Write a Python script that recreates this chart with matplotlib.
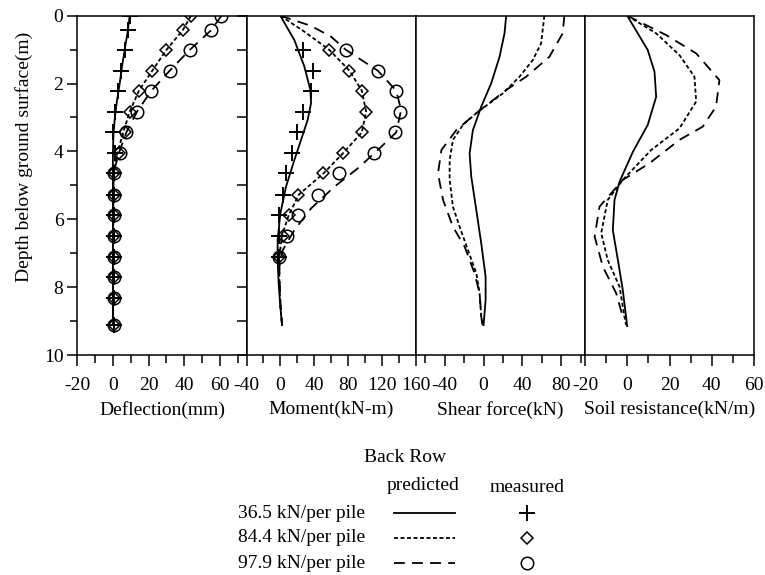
"""Back row pile response: deflection, moment, shear force, soil resistance vs depth."""

import matplotlib

matplotlib.use("Agg")
import matplotlib.pyplot as plt
from matplotlib.lines import Line2D
from matplotlib.ticker import MultipleLocator

plt.rcParams["font.family"] = ["Liberation Serif", "DejaVu Serif"]
plt.rcParams["font.size"] = 14
plt.rcParams["axes.unicode_minus"] = False

LOADS = ["36.5 kN/per pile", "84.4 kN/per pile", "97.9 kN/per pile"]

# measured points (depth, m)
MEAS_DEPTH = [0.0, 0.42, 1.01, 1.62, 2.21, 2.83, 3.44, 4.04, 4.65, 5.27,
              5.87, 6.48, 7.10, 7.69, 8.31, 9.12]
DEFL_MEAS = [
    [9.4, 8.4, 7.0, 4.7, 2.8, 1.0, 0.0, 1.0, 0.4, 0.4, 0.4, 0.4, 0.4, 0.4, 0.4, 0.4],
    [43.8, 39.3, 30.0, 22.1, 14.6, 9.4, 6.6, 3.4, 0.8, 0.4, 0.4, 0.4, 0.4, 0.4, 0.4, 0.4],
    [60.9, 55.3, 43.1, 31.9, 21.6, 13.5, 7.5, 3.8, 0.8, 0.4, 0.4, 0.4, 0.4, 0.4, 0.4, 0.4],
]
MOM_DEPTH = [1.01, 1.62, 2.21, 2.83, 3.44, 4.04, 4.65, 5.27, 5.87, 6.48, 7.10]
MOM_MEAS = [
    [26.4, 38.2, 36.3, 26.4, 19.7, 13.8, 6.7, 2.8, -1.2, -1.2, -1.2],
    [58.0, 81.7, 96.3, 101.4, 96.3, 74.6, 50.9, 20.5, 9.8, 2.8, -1.2],
    [77.7, 115.2, 136.9, 142.0, 136.1, 110.4, 69.8, 45.0, 20.5, 7.9, -1.2],
]

# predicted curves
DEFL_PRED_DEPTH = [
    [0, 0.5, 1.0, 1.5, 2.0, 2.5, 3.0, 3.5, 4.0, 4.5, 9.12],
    [0, 0.42, 1.01, 1.62, 2.21, 2.83, 3.44, 4.04, 4.5, 5.0, 9.12],
    [0, 0.42, 1.01, 1.62, 2.21, 2.83, 3.44, 4.04, 4.5, 5.0, 9.12],
]
DEFL_PRED = [
    [9.4, 8.2, 6.6, 5.1, 3.8, 2.3, 1.1, 0.3, 0.0, 0.0, 0.0],
    [43.8, 39.3, 30.0, 22.1, 14.6, 9.4, 5.8, 2.5, 0.8, 0.2, 0.0],
    [60.9, 55.3, 43.1, 31.9, 21.6, 13.5, 7.5, 3.4, 1.0, 0.2, 0.0],
]
MOM_PRED_DEPTH = [
    [0, 0.72, 1.50, 2.19, 2.58, 3.07, 3.66, 4.25, 5.04, 5.83, 6.61, 7.20, 7.89, 8.57, 9.12],
    [0, 0.47, 1.01, 1.62, 2.21, 2.83, 3.44, 4.04, 4.65, 5.27, 5.87, 6.48, 7.10, 7.89, 8.57, 9.12],
    [0, 0.30, 0.62, 1.01, 1.62, 2.21, 2.78, 3.44, 3.96, 4.50, 5.04, 5.68, 6.32, 6.91, 7.40, 8.38, 9.12],
]
MOM_PRED = [
    [0, 16.6, 28.4, 35.5, 36.3, 32.3, 24.5, 16.6, 6.7, 0.0, -3.2, -3.2, -2.0, 0.0, 2.0],
    [0, 28.4, 58.0, 81.7, 96.3, 101.4, 96.3, 74.6, 50.9, 22.0, 10.0, 2.0, -1.2, -1.2, 0.0, 2.0],
    [0, 36.3, 60.0, 77.7, 115.2, 136.9, 142.8, 136.9, 115.2, 91.5, 63.9, 36.3, 16.6, 2.8, -1.2, 0.0, 2.0],
]
SHEAR_DEPTH = [
    [0, 0.52, 1.21, 1.99, 2.68, 3.37, 4.06, 4.74, 5.73, 6.71, 7.69, 8.38, 9.12],
    [0, 0.82, 1.31, 1.80, 2.29, 2.83, 3.22, 3.66, 4.25, 4.84, 5.63, 6.22, 6.91, 7.59, 8.18, 8.87, 9.12],
    [0, 0.52, 1.21, 1.80, 2.19, 2.83, 3.37, 3.96, 4.65, 5.43, 6.22, 6.81, 7.59, 8.18, 8.87, 9.12],
]
SHEAR = [
    [23.3, 21.6, 16.5, 7.9, -2.4, -11.0, -14.4, -12.7, -7.5, -2.4, 2.1, 2.1, 0.0],
    [62.7, 59.3, 50.7, 37.0, 19.9, -5.8, -21.3, -31.6, -35.0, -35.0, -31.6, -24.7, -16.1, -7.5, -4.1, -2.4, -1.0],
    [83.3, 81.6, 67.9, 43.9, 23.3, -5.8, -28.1, -43.5, -47.0, -41.8, -31.6, -19.5, -9.3, -4.1, -2.4, -1.0],
]
SOIL_DEPTH = [
    [0, 0.52, 1.01, 1.65, 2.39, 3.22, 4.01, 4.89, 5.43, 6.32, 7.20, 8.08, 9.15],
    [0, 0.52, 1.16, 1.80, 2.53, 3.32, 3.96, 4.84, 5.43, 6.41, 7.20, 7.99, 8.87, 9.12],
    [0, 0.57, 1.11, 1.90, 2.68, 3.27, 3.66, 4.35, 4.84, 5.63, 6.51, 7.40, 8.18, 8.87],
]
SOIL = [
    [0, 5.0, 9.7, 12.9, 13.7, 9.7, 2.7, -3.6, -6.0, -6.8, -4.4, -2.1, 0.0],
    [0, 13.7, 24.7, 31.8, 32.6, 24.7, 11.3, -2.1, -9.2, -12.3, -9.2, -3.6, -1.3, -0.5],
    [0, 18.4, 32.6, 43.6, 42.0, 35.7, 24.7, 10.5, -2.1, -13.1, -15.4, -11.5, -5.2, -2.1],
]

LINESTYLES = ["-", (0, (2.2, 1.4)), (0, (6, 4))]
MARKERS = [dict(marker="+", ms=11, mew=1.4),
           dict(marker="D", ms=6.5, mew=1.1),
           dict(marker="o", ms=9, mew=1.1)]

W, H = 765, 575
fig = plt.figure(figsize=(W / 100, H / 100), dpi=100)


def fx(px):
    return px / W


def fy(py):
    return 1 - py / H


panels = [
    ("Deflection(mm)", (-20, 75), 20, 10),
    ("Moment(kN-m)", (-40, 160), 40, 20),
    ("Shear force(kN)", (-70, 104.5), 40, 20),
    ("Soil resistance(kN/m)", (-20, 60), 20, 10),
]
left, pw, top, bot = 77.3, 169.2, 15.7, 355
axes = []
for i, (label, xlim, major, minor) in enumerate(panels):
    ax = fig.add_axes([fx(left + i * pw), fy(bot), pw / W, (bot - top) / H])
    ax.set_xlim(*xlim)
    ax.set_ylim(10, 0)
    ax.xaxis.set_major_locator(MultipleLocator(major))
    ax.xaxis.set_minor_locator(MultipleLocator(minor))
    ax.tick_params(axis="x", which="both", direction="out", top=False, width=1.1, pad=8)
    ax.tick_params(axis="x", which="major", length=8)
    ax.tick_params(axis="x", which="minor", length=5.5)
    ax.set_xlabel(label, labelpad=5)
    for s in ax.spines.values():
        s.set_linewidth(1.1)
    if i == 0:
        ax.yaxis.set_major_locator(MultipleLocator(2))
        ax.yaxis.set_minor_locator(MultipleLocator(1))
        ax.tick_params(axis="y", which="both", left=True, right=False, direction="out", width=1.1, pad=3)
        ax.tick_params(axis="y", which="major", length=7)
        ax.tick_params(axis="y", which="minor", length=5)
        ax.set_ylabel("Depth below ground surface(m)")
        ax.yaxis.set_label_coords(-0.262, 0.584)
        # inner ticks on the right edge
        sec = ax.secondary_yaxis("right")
        sec.yaxis.set_major_locator(MultipleLocator(1))
        sec.tick_params(direction="in", length=7, width=1.1, labelright=False)
        sec.spines["right"].set_linewidth(1.1)
    else:
        ax.tick_params(axis="y", which="both", left=False, right=False, labelleft=False)
    axes.append(ax)

for k in range(3):
    axes[0].plot(DEFL_PRED[k], DEFL_PRED_DEPTH[k], color="black", lw=1.3, ls=LINESTYLES[k])
    axes[0].plot(DEFL_MEAS[k], MEAS_DEPTH, ls="none", color="black", mfc="none", **MARKERS[k])
    axes[1].plot(MOM_PRED[k], MOM_PRED_DEPTH[k], color="black", lw=1.3, ls=LINESTYLES[k])
    axes[1].plot(MOM_MEAS[k], MOM_DEPTH, ls="none", color="black", mfc="none", **MARKERS[k])
    axes[2].plot(SHEAR[k], SHEAR_DEPTH[k], color="black", lw=1.3, ls=LINESTYLES[k])
    axes[3].plot(SOIL[k], SOIL_DEPTH[k], color="black", lw=1.3, ls=LINESTYLES[k])

# legend block
fig.text(fx(405), fy(458), "Back Row", ha="center", va="center")
fig.text(fx(423), fy(485), "predicted", ha="center", va="center")
fig.text(fx(527), fy(487), "measured", ha="center", va="center")
for k, name in enumerate(LOADS):
    y = 513 + 25 * k
    fig.text(fx(365), fy(y), name, ha="right", va="center")
    fig.add_artist(Line2D([fx(394), fx(455)], [fy(y), fy(y)], transform=fig.transFigure,
                          color="black", lw=1.3, ls=LINESTYLES[k]))
    fig.add_artist(Line2D([fx(527)], [fy(y)], transform=fig.transFigure, ls="none",
                          color="black", mfc="none", **MARKERS[k]))

fig.savefig("out.png", dpi=100)
